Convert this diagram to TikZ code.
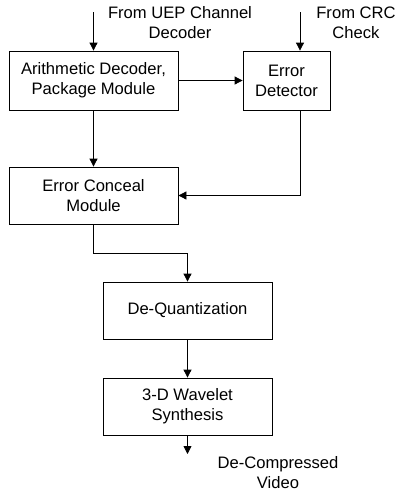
\documentclass[tikz,border=0pt]{standalone}
\usepackage{fontspec}
\setmainfont{Liberation Sans}
\usetikzlibrary{arrows.meta,calc}

\begin{document}
\begin{tikzpicture}[x=1pt,y=-1pt,
  block/.style={draw,line width=0.8pt,align=center,inner sep=0pt,font=\fontsize{16.6}{20}\selectfont},
  lbl/.style={align=center,inner sep=0pt,font=\fontsize{16.6}{20}\selectfont},
  flow/.style={line width=0.8pt,-{Triangle[length=8pt,width=8pt]}}]
\useasboundingbox (0,0) rectangle (397,493);
\node[block,minimum width=169pt,minimum height=59pt] (arith) at (93.5,80.5) {Arithmetic Decoder,\\Package Module};
\node[block,minimum width=87pt,minimum height=59pt] (detect) at (286.5,80.5) {Error\\Detector};
\node[block,minimum width=169pt,minimum height=57pt] (conceal) at (93.5,195.5) {Error Conceal\\Module};
\node[block,minimum width=169pt,minimum height=57pt] (dequant) at (187.5,310.5) {De-Quantization};
\node[block,minimum width=169pt,minimum height=57pt] (synth) at (187.5,406.5) {3-D Wavelet\\Synthesis};
% inputs and output
\coordinate (uep) at (93.5,12);
\coordinate (crc) at (300,12);
\coordinate (out) at (187.5,454);
\node[lbl] (uepText) at (180,23) {From UEP Channel\\Decoder};
\node[lbl] (crcText) at (356,23) {From CRC\\Check};
\node[lbl] (outText) at (278,473) {De-Compressed\\Video};
% connectors
\draw[flow] (uep) -- (arith.north);
\draw[flow] (crc) -- (crc |- detect.north);
\draw[flow] (arith.east) -- (detect.west);
\draw[flow] (arith.south) -- (conceal.north);
\draw[flow] (crc |- detect.south) |- (conceal.east);
\draw[flow] (conceal.south) -- ++(0,29) -| (dequant.north);
\draw[flow] (dequant.south) -- (synth.north);
\draw[flow] (synth.south) -- (out);
\end{tikzpicture}
\end{document}
